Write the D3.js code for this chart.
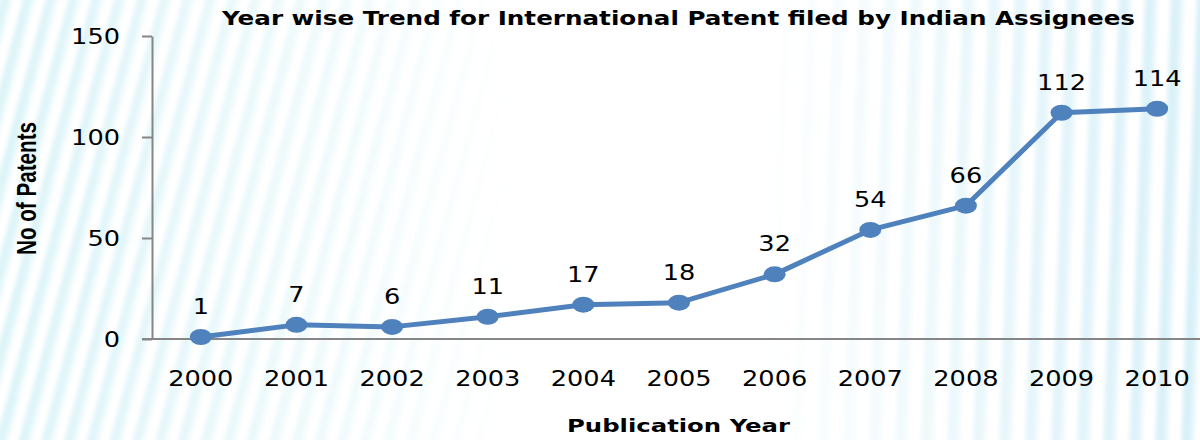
<!DOCTYPE html>
<html>
<head>
<meta charset="utf-8">
<script src="https://cdn.jsdelivr.net/npm/d3@7/dist/d3.min.js"></script>
<style>
html,body{margin:0;padding:0;background:#fff;}
svg{display:block;}
</style>
</head>
<body>
<div id="chart"></div>
<script>
const years = ["2000","2001","2002","2003","2004","2005","2006","2007","2008","2009","2010"];
const patents = [1,7,6,11,17,18,32,54,66,112,114];
const yTicks = [0,50,100,150];
const titleText = "Year wise Trend for International Patent filed by Indian Assignees";
const xTitleText = "Publication Year";
const yTitleText = "No of Patents";

const W = 1200, H = 440;
const svg = d3.select("#chart").append("svg").attr("width", W).attr("height", H);
const defs = svg.append("defs");

// background stripes
const blur = defs.append("filter").attr("id","soft").attr("filterUnits","userSpaceOnUse")
  .attr("x",-40).attr("y",-40).attr("width",W+80).attr("height",H+80);
blur.append("feGaussianBlur").attr("stdDeviation",2);

const pL = defs.append("pattern").attr("id","stripesL").attr("patternUnits","userSpaceOnUse")
  .attr("width",22).attr("height",40).attr("patternTransform","rotate(15)");
pL.append("rect").attr("width",22).attr("height",40).attr("fill","#ffffff");
pL.append("rect").attr("x",0).attr("width",8).attr("height",40).attr("fill","#d9f3f7");
pL.append("rect").attr("x",8).attr("width",4).attr("height",40).attr("fill","#ebf9fb");
const pR = defs.append("pattern").attr("id","stripesR").attr("patternUnits","userSpaceOnUse")
  .attr("width",26).attr("height",40).attr("patternTransform","rotate(2)");
pR.append("rect").attr("width",26).attr("height",40).attr("fill","#ffffff");
pR.append("rect").attr("x",0).attr("width",9).attr("height",40).attr("fill","#d6f0f8");
pR.append("rect").attr("x",9).attr("width",4).attr("height",40).attr("fill","#e8f6fb");

const gL = defs.append("linearGradient").attr("id","fadeL").attr("gradientUnits","userSpaceOnUse")
  .attr("x1",0).attr("x2",520).attr("y1",0).attr("y2",0);
gL.append("stop").attr("offset","0").attr("stop-color","#fff").attr("stop-opacity",0.95);
gL.append("stop").attr("offset","0.6").attr("stop-color","#fff").attr("stop-opacity",0.45);
gL.append("stop").attr("offset","1").attr("stop-color","#fff").attr("stop-opacity",0);
const mL = defs.append("mask").attr("id","maskL").attr("maskUnits","userSpaceOnUse")
  .attr("x",-40).attr("y",-40).attr("width",W+80).attr("height",H+80);
mL.append("rect").attr("x",-40).attr("y",-40).attr("width",560).attr("height",H+80).attr("fill","url(#fadeL)");
const gR = defs.append("linearGradient").attr("id","fadeR").attr("gradientUnits","userSpaceOnUse")
  .attr("x1",760).attr("x2",1200).attr("y1",0).attr("y2",0);
gR.append("stop").attr("offset","0").attr("stop-color","#fff").attr("stop-opacity",0);
gR.append("stop").attr("offset","0.5").attr("stop-color","#fff").attr("stop-opacity",0.55);
gR.append("stop").attr("offset","1").attr("stop-color","#fff").attr("stop-opacity",1);
const mR = defs.append("mask").attr("id","maskR").attr("maskUnits","userSpaceOnUse")
  .attr("x",-40).attr("y",-40).attr("width",W+80).attr("height",H+80);
mR.append("rect").attr("x",760).attr("y",-40).attr("width",480).attr("height",H+80).attr("fill","url(#fadeR)");

svg.append("rect").attr("width",W).attr("height",H).attr("fill","#fff");
const bg = svg.append("g").attr("filter","url(#soft)");
bg.append("rect").attr("x",-40).attr("y",-40).attr("width",560).attr("height",H+80).attr("fill","url(#stripesL)").attr("mask","url(#maskL)");
bg.append("rect").attr("x",760).attr("y",-40).attr("width",480).attr("height",H+80).attr("fill","url(#stripesR)").attr("mask","url(#maskR)");

// scales
const x = d3.scaleBand().domain(years).range([153, 1205]).padding(0);
const y = d3.scaleLinear().domain([0,150]).range([339, 36]);
const cx = d => x(d) + x.bandwidth()/2;

const axisColor = "#868686";
const font = "'DejaVu Sans', Verdana, sans-serif";

// y axis
const yAxis = svg.append("g").attr("transform","translate(152,0)")
  .call(d3.axisLeft(y).tickValues(yTicks).tickSize(10).tickSizeOuter(0).tickPadding(0));
yAxis.select(".domain").attr("stroke",axisColor).attr("stroke-width",2);
yAxis.selectAll(".tick line").attr("stroke",axisColor).attr("stroke-width",2);
yAxis.selectAll(".tick text").attr("x",0).attr("dy","0.36em")
  .attr("transform","translate(-32,0) scale(1.22,1)")
  .attr("font-family",font).attr("font-size",21).attr("fill","#000");

// x axis
const xAxis = svg.append("g").attr("transform","translate(0,339)")
  .call(d3.axisBottom(x).tickSize(0).tickSizeOuter(0).tickPadding(0));
xAxis.select(".domain").attr("stroke",axisColor).attr("stroke-width",2).attr("d","M142,0H1200");
xAxis.selectAll(".tick text").attr("y",0).attr("dy","0")
  .attr("transform","translate(0,47) scale(1.22,1)")
  .attr("font-family",font).attr("font-size",21).attr("fill","#000");

// line
const line = d3.line().x((d,i)=>cx(years[i])).y(d=>y(d));
svg.append("path").datum(patents).attr("d",line).attr("fill","none")
  .attr("stroke","#4f81bd").attr("stroke-width",5).attr("stroke-linejoin","round");
svg.selectAll("ellipse.pt").data(patents).enter().append("ellipse").attr("class","pt")
  .attr("cx",(d,i)=>cx(years[i])).attr("cy",d=>y(d)).attr("rx",11).attr("ry",8)
  .attr("fill","#4f81bd");

// data labels
svg.selectAll("text.lbl").data(patents).enter().append("text").attr("class","lbl")
  .attr("transform",(d,i)=>`translate(${cx(years[i])},${y(d)-23}) scale(1.22,1)`)
  .attr("text-anchor","middle").attr("font-family",font).attr("font-size",21).attr("fill","#000")
  .text(d=>d);

// title
svg.append("text").attr("x",222).attr("y",25).attr("font-family",font).attr("font-weight","bold")
  .attr("font-size",19).attr("fill","#000").attr("textLength",913).attr("lengthAdjust","spacingAndGlyphs")
  .text(titleText);

// x title
svg.append("text").attr("x",567).attr("y",432).attr("font-family",font).attr("font-weight","bold")
  .attr("font-size",18).attr("fill","#000").attr("textLength",223).attr("lengthAdjust","spacingAndGlyphs")
  .text(xTitleText);

// y title
svg.append("text").attr("transform","translate(36,255) rotate(-90)")
  .attr("font-family","'Liberation Sans Narrow','Liberation Sans',Arial,sans-serif").attr("font-weight","bold")
  .attr("font-size",28).attr("fill","#000").attr("textLength",133).attr("lengthAdjust","spacingAndGlyphs")
  .text(yTitleText);
</script>
</body>
</html>
